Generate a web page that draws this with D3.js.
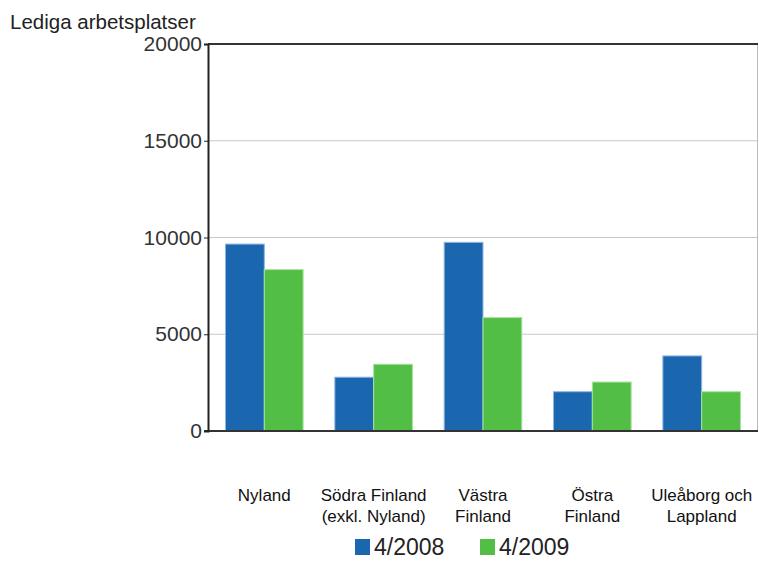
<!DOCTYPE html>
<html>
<head>
<meta charset="utf-8">
<script src="https://cdn.jsdelivr.net/npm/d3@7"></script>
<style>
  body { margin: 0; background: #fff; }
  svg { display: block; font-family: "Liberation Sans", Arial, sans-serif; }
</style>
</head>
<body>
<svg id="chart" width="759" height="561"></svg>
<script>
const regions = [
  ['Nyland'],
  ['Södra Finland', '(exkl. Nyland)'],
  ['Västra', 'Finland'],
  ['Östra', 'Finland'],
  ['Uleåborg och', 'Lappland'],
];
const seriesNames = ['4/2008', '4/2009'];
const values2008 = [9660, 2780, 9750, 2030, 3880];
const values2009 = [8340, 3450, 5860, 2530, 2030];
const yTicks = [0, 5000, 10000, 15000, 20000];

const colors = ['#1a67b0', '#52be45'];
const strokes = ['#8db7e2', '#a9e2a0'];
const font = '"Liberation Sans", Arial, sans-serif';

const margin = { left: 208, right: 1, top: 44, bottom: 130 };
const W = 759, H = 561;
const svg = d3.select('#chart');

const x = d3.scaleBand()
  .domain(d3.range(regions.length))
  .range([margin.left, W - margin.right])
  .paddingInner(0.29).paddingOuter(0.16);
const xs = d3.scaleBand().domain([0, 1]).range([0, x.bandwidth()]);
const y = d3.scaleLinear().domain([0, 20000]).range([H - margin.bottom, margin.top]);

// gridlines
svg.append('g')
  .selectAll('line')
  .data(yTicks.filter(t => t > 0 && t < 20000))
  .join('line')
  .attr('x1', margin.left).attr('x2', W - margin.right)
  .attr('y1', d => y(d)).attr('y2', d => y(d))
  .attr('stroke', '#c8c8c8').attr('stroke-width', 1);

// right border
svg.append('line')
  .attr('x1', W - margin.right - 0.5).attr('x2', W - margin.right - 0.5)
  .attr('y1', y(20000)).attr('y2', y(0))
  .attr('stroke', '#bbb');

// bars
const series = [values2008, values2009];
series.forEach((vals, si) => {
  svg.append('g')
    .selectAll('rect')
    .data(vals)
    .join('rect')
    .attr('x', (d, i) => x(i) + xs(si))
    .attr('width', xs.bandwidth())
    .attr('y', d => y(d))
    .attr('height', d => y(0) - y(d))
    .attr('fill', colors[si])
    .attr('stroke', strokes[si])
    .attr('stroke-width', 1);
});

// top line
svg.append('line')
  .attr('x1', margin.left).attr('x2', W - margin.right)
  .attr('y1', y(20000)).attr('y2', y(20000))
  .attr('stroke', '#333').attr('stroke-width', 2);

// bottom line
svg.append('line')
  .attr('x1', margin.left - 4).attr('x2', W - margin.right)
  .attr('y1', y(0)).attr('y2', y(0))
  .attr('stroke', '#333').attr('stroke-width', 2);

// y axis
const yAxis = svg.append('g')
  .attr('transform', `translate(${margin.left},0)`)
  .call(d3.axisLeft(y).tickValues(yTicks).tickSize(4).tickPadding(2).tickFormat(d3.format('d')));
yAxis.select('.domain').attr('stroke', '#222').attr('stroke-width', 2);
yAxis.selectAll('.tick line').attr('stroke', '#222');
yAxis.selectAll('.tick text')
  .attr('font-size', 21).attr('fill', '#333')
  .attr('font-family', font);

// y title
svg.append('text')
  .attr('x', 10).attr('y', 29)
  .attr('font-size', 20.5).attr('fill', '#222')
  .text('Lediga arbetsplatser');

// category labels
const lab = svg.append('g')
  .selectAll('text')
  .data(regions)
  .join('text')
  .attr('text-anchor', 'middle')
  .attr('font-size', 17).attr('fill', '#111')
  .attr('x', (d, i) => x(i) + x.bandwidth() / 2)
  .attr('y', 501);
lab.selectAll('tspan')
  .data(d => d)
  .join('tspan')
  .attr('x', function () { return this.parentNode.getAttribute('x'); })
  .attr('dy', (d, i) => i === 0 ? 0 : 21)
  .text(d => d);

// legend
const legendX = [355, 480];
const leg = svg.append('g')
  .selectAll('g')
  .data(seriesNames)
  .join('g')
  .attr('transform', (d, i) => `translate(${legendX[i]},539)`);
leg.append('rect').attr('width', 15).attr('height', 16).attr('fill', (d, i) => colors[i]);
leg.append('text')
  .attr('x', 19).attr('y', 16)
  .attr('font-size', 23).attr('fill', '#222')
  .text(d => d);
</script>
</body>
</html>
